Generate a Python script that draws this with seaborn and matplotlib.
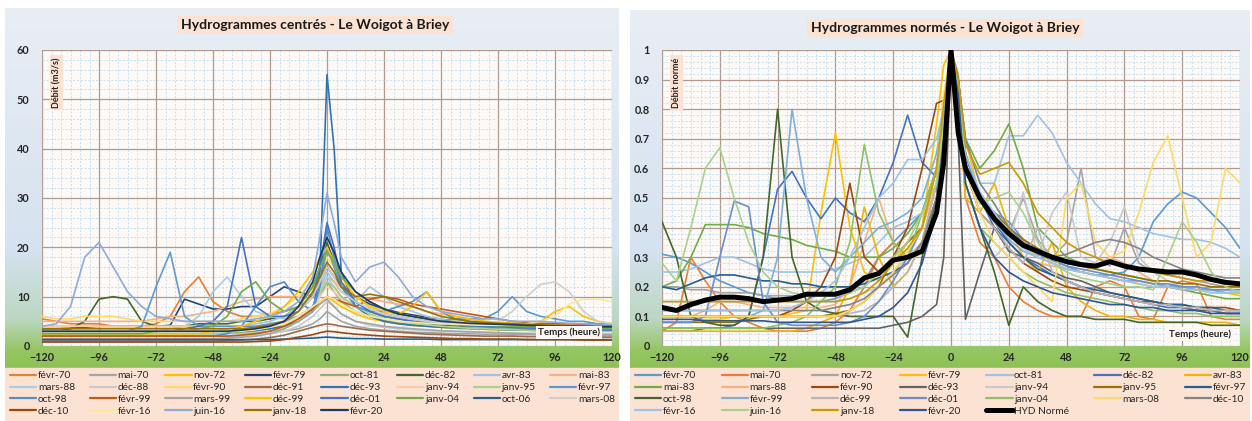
import numpy as np
import pandas as pd
import seaborn as sns
import matplotlib.pyplot as plt
from matplotlib.colors import to_rgb
from matplotlib.lines import Line2D
from matplotlib.patches import Rectangle
from matplotlib.ticker import MultipleLocator

sns.set_theme(style="white")
plt.rcParams['font.family'] = ['Lato', 'DejaVu Sans']

# time axis (hours around the peak), shared by every event
HOURS = [-120, -114, -108, -102, -96, -90, -84, -78, -72, -66, -60, -54, -48, -42, -36, -30, -24, -18, -12, -6,
         -3, 0, 3,
         6, 12, 18, 24, 30, 36, 42, 48, 54, 60, 66, 72, 78, 84, 90, 96, 102, 108, 114, 120]

# ---------- left chart: centred hydrographs (m3/s) ----------
Q_FEVR70 = [5.5, 5, 4.5, 4.5, 4.5, 4, 4, 4, 4.5, 6, 11, 14, 9, 7, 6, 6, 6.5, 7, 8, 10, 11, 13, 12, 10, 8, 7, 6.5, 6, 5.5, 5, 5, 4.5, 4.5, 4, 4, 4, 4, 3.5, 3.5, 3.5, 3.5, 3.5, 3.5]
Q_MAI70 = [2, 2, 2, 2, 2, 2, 2, 2, 2, 2, 2, 2, 2, 2, 2.2, 2.3, 2.5, 3, 3.5, 4.5, 5.5, 7, 6, 5, 4, 3.5, 3.2, 3, 2.8, 2.7, 2.6, 2.5, 2.5, 2.4, 2.4, 2.3, 2.3, 2.3, 2.2, 2.2, 2.2, 2.2, 2.2]
Q_NOV72 = [3, 3, 3, 3, 3, 3, 3, 3, 3, 3, 3, 3, 3, 3, 3.2, 3.5, 4, 5, 6, 7.5, 8.5, 10, 9, 8, 6.5, 5.5, 5, 4.5, 4.2, 4, 3.8, 3.6, 3.5, 3.4, 3.3, 3.2, 3.2, 3.1, 3.1, 3, 3, 3, 3]
Q_FEVR79 = [3.5, 3.5, 3.6, 3.8, 4, 4, 4, 4, 4, 4.2, 9.5, 8.5, 7.5, 7.5, 8, 8, 10, 12, 11, 10, 13, 16, 14, 12, 10, 8.5, 7.5, 6.8, 6.3, 5.8, 5.4, 5, 4.8, 4.6, 4.4, 4.3, 4.2, 4.1, 4, 4, 3.9, 3.9, 3.8]
Q_OCT81 = [2.5, 2.5, 2.5, 2.5, 2.5, 2.5, 2.5, 2.5, 2.5, 2.5, 2.5, 2.5, 2.5, 2.6, 2.7, 3, 3.5, 4.5, 6, 8, 10, 13, 11, 9, 7, 6, 5.2, 4.7, 4.3, 4, 3.8, 3.6, 3.5, 3.4, 3.3, 3.2, 3.2, 3.1, 3.1, 3, 3, 3, 3]
Q_DEC82 = [3, 3, 3.5, 5, 9.5, 10, 9.5, 5, 4, 4, 4, 4.5, 4.5, 4.5, 5, 5, 5.5, 6, 8, 12, 16, 21, 17, 13, 9, 7, 6, 5.5, 5, 4.5, 4.3, 4.1, 4, 3.9, 3.8, 3.7, 3.6, 3.6, 3.5, 3.5, 3.4, 3.4, 3.4]
Q_AVR83 = [4, 4, 4, 4, 4, 4, 4, 4, 4, 4, 4, 4, 4, 4, 4, 4.5, 5, 6, 8, 10, 12, 15, 13, 11, 9, 12, 10, 8, 7, 6, 5.5, 5, 4.8, 4.6, 4.5, 4.4, 4.3, 4.2, 4.1, 4, 4, 4, 4]
Q_MAI83 = [5, 5, 5, 5, 5, 5, 5, 5, 5.5, 6, 6, 6.5, 7, 8, 9, 9.5, 10, 10, 10, 10.5, 12, 14, 13, 11, 10, 9.5, 9, 8.5, 8, 7, 6.5, 6, 5.5, 5, 4.8, 4.6, 4.5, 4.4, 4.3, 4.2, 4.1, 4, 4]
Q_MARS88 = [3, 3, 3, 3, 3, 3, 3, 3, 3, 3.5, 4, 6, 11, 14, 10, 7, 6, 5.5, 6, 8, 11, 14, 12, 10, 8, 7, 6, 5.5, 5, 4.7, 4.5, 4.3, 4.1, 4, 3.9, 3.8, 3.7, 3.6, 3.6, 3.5, 3.5, 3.5, 3.5]
Q_DEC88 = [2, 2, 2, 2, 2, 2, 2, 2, 2, 2, 2, 2, 2, 2, 2, 2.2, 2.5, 3, 4, 6, 7.5, 9, 8, 6.5, 5, 4.2, 3.8, 3.5, 3.3, 3.1, 3, 2.9, 2.8, 2.7, 2.7, 2.6, 2.6, 2.5, 2.5, 2.5, 2.5, 2.5, 2.5]
Q_FEVR90 = [6, 5.5, 5.5, 6, 6, 6, 5.5, 5, 5, 5, 5, 5, 5, 5, 5.5, 6, 6.5, 8, 10, 13, 15, 18, 16, 13, 10, 8, 7, 6.5, 6, 5.5, 5.2, 5, 4.8, 4.6, 4.5, 4.4, 4.3, 4.2, 4.2, 4.1, 4.1, 4, 4]
Q_DEC91 = [1, 1, 1, 1, 1, 1, 1, 1, 1, 1, 1, 1, 1, 1.1, 1.2, 1.4, 1.7, 2.2, 3, 3.8, 4.2, 4.5, 4.3, 4, 3.6, 3.2, 3, 2.8, 2.6, 2.4, 2.3, 2.2, 2.1, 2, 2, 2, 1.9, 1.9, 1.9, 1.8, 1.8, 1.8, 1.8]
Q_DEC93 = [3, 3, 3, 3, 3, 3, 3, 3, 3, 3, 3, 3, 3, 3, 3, 3.2, 3.5, 4, 5, 7, 15, 55, 40, 15, 8, 6, 5, 4.5, 4.2, 4, 3.8, 3.7, 3.6, 3.5, 3.4, 3.3, 3.3, 3.2, 3.2, 3.1, 3.1, 3, 3]
Q_JANV94 = [4, 4, 4, 4, 4, 4, 4, 4, 4, 4, 4, 4, 4, 4, 4, 4, 4.5, 5, 6, 8, 10, 12, 11, 9.5, 8, 7, 6.5, 6, 5.5, 5, 4.8, 4.6, 4.5, 4.4, 4.3, 4.2, 4.1, 4, 4, 4, 4, 4, 4]
Q_JANV95 = [2.5, 2.5, 2.5, 2.5, 2.5, 2.5, 2.5, 2.5, 2.5, 2.5, 2.5, 2.5, 2.5, 2.5, 2.5, 2.7, 3, 3.5, 5, 8, 11, 13, 12, 10, 8, 6.5, 5.5, 5, 4.6, 4.3, 4, 3.8, 3.6, 3.5, 3.4, 3.3, 3.2, 3.1, 3, 3, 3, 3, 3]
Q_FEVR97 = [3, 3, 3, 3, 3, 3, 3, 4, 12, 19, 6, 4, 4, 4, 4, 4, 4.5, 5, 6, 8, 12, 20, 16, 12, 9, 7.5, 6.5, 6, 5.5, 5, 5, 5.5, 5.5, 5.5, 7, 10, 7, 6, 5.5, 5, 5, 4.5, 4.5]
Q_OCT98 = [2, 2, 2, 2, 2, 2, 2, 2, 2, 2, 2, 2, 2, 2.5, 4, 8, 12, 13, 9, 7, 12, 24, 18, 12, 8, 7, 7, 8, 9, 11, 7, 5.5, 5, 4.5, 4.2, 4, 3.8, 3.6, 3.5, 3.4, 3.3, 3.2, 3.2]
Q_FEVR99 = [2, 2, 2, 2, 2, 2, 2, 2, 2, 2, 2, 2, 2, 2, 2.2, 2.5, 3, 4, 5.5, 7.5, 9, 10, 9.5, 9, 8, 9.5, 10, 9.5, 8.5, 8, 7.5, 7, 6.5, 6, 5.5, 5, 4.8, 4.6, 4.5, 4.5, 4.4, 4.4, 4.3]
Q_MARS99 = [1.5, 1.5, 1.5, 1.5, 1.5, 1.5, 1.5, 1.5, 1.5, 1.5, 1.5, 1.5, 1.5, 1.6, 1.8, 2, 2.5, 3.5, 5, 7, 8.5, 9.5, 8, 6.5, 5, 4.5, 4, 3.7, 3.5, 3.3, 3.1, 3, 2.9, 2.8, 2.7, 2.6, 2.5, 2.5, 2.4, 2.4, 2.3, 2.3, 2.3]
Q_DEC99 = [2.5, 2.5, 2.5, 2.5, 2.5, 2.5, 2.5, 2.5, 2.5, 2.5, 2.5, 2.5, 3, 3.5, 4, 5, 6, 8, 11, 15, 18, 20, 17, 14, 10, 8, 7, 6.5, 8, 11, 7, 6, 5.5, 5, 4.8, 4.6, 4.5, 5, 7, 8, 6, 5, 4.5]
Q_DEC01 = [3, 3, 3, 3, 3, 3, 3, 3, 3, 3, 3.5, 4, 5, 8, 22, 8, 6, 6, 7, 10, 16, 25, 20, 13, 9, 7, 6, 5.5, 5, 4.7, 4.5, 4.3, 4.1, 4, 3.9, 3.8, 3.7, 3.6, 3.5, 3.5, 3.4, 3.4, 3.3]
Q_JANV04 = [2.5, 2.5, 2.5, 2.5, 2.5, 2.5, 2.5, 2.5, 3, 3, 3, 3.5, 4, 6, 11, 13, 9, 7, 8, 12, 16, 19, 17, 14, 11, 9, 7.5, 6.5, 6, 5.5, 5, 4.7, 4.5, 4.3, 4.1, 4, 3.9, 3.8, 3.7, 3.6, 3.6, 3.5, 3.5]
Q_OCT06 = [1.3, 1.3, 1.3, 1.3, 1.3, 1.3, 1.3, 1.3, 1.3, 1.3, 1.3, 1.3, 1.3, 1.3, 1.3, 1.3, 1.3, 1.4, 1.5, 1.6, 1.7, 1.8, 1.7, 1.6, 1.5, 1.5, 1.4, 1.4, 1.4, 1.4, 1.3, 1.3, 1.3, 1.3, 1.3, 1.3, 1.3, 1.3, 1.3, 1.3, 1.3, 1.3, 1.3]
Q_MARS08 = [3, 3, 3, 3, 3, 3, 3, 3, 3, 3, 3, 3, 3, 3, 3, 3.5, 4, 5, 7, 10, 13, 16, 14, 11, 9, 7.5, 6.5, 6, 5.5, 5, 4.8, 4.6, 4.5, 4.5, 5, 7, 10, 12.5, 13, 11, 7, 5, 4.5]
Q_DEC10 = [0.8, 0.8, 0.8, 0.8, 0.8, 0.8, 0.8, 0.8, 0.8, 0.8, 0.8, 0.8, 0.8, 0.8, 0.8, 0.9, 1, 1.3, 1.8, 2.3, 2.7, 3, 2.9, 2.7, 2.4, 2.2, 2, 1.9, 1.8, 1.7, 1.6, 1.5, 1.5, 1.4, 1.4, 1.4, 1.3, 1.3, 1.3, 1.3, 1.2, 1.2, 1.2]
Q_FEVR16 = [3, 3, 3, 3, 3, 3, 3, 3, 3, 3, 3, 3, 3, 3, 3, 3.3, 3.8, 4.5, 6, 8, 9, 10, 9.5, 8.5, 7, 6, 5.5, 5, 4.8, 4.6, 4.5, 4.4, 4.3, 4.2, 4.2, 4.3, 4.5, 5, 6, 8.5, 9.5, 9.5, 9]
Q_JUIN16 = [4, 4.5, 8, 18, 21, 16, 11, 8, 6, 5.5, 5, 5, 5, 5, 5, 5.5, 6, 7, 9, 14, 22, 31, 25, 18, 13, 16, 17, 14, 10, 8, 7, 6.5, 6, 5.5, 5.5, 5, 5, 5, 4.8, 4.6, 4.5, 4.4, 4.3]
Q_JANV18 = [3.5, 3.5, 3.5, 3.5, 3.5, 3.5, 3.5, 3.5, 3.5, 3.5, 3.5, 3.5, 3.5, 3.5, 3.5, 3.8, 4.2, 5, 7, 11, 14, 17, 15, 12, 10, 10.5, 10, 9, 8, 7, 6, 5.5, 5, 4.8, 4.6, 4.5, 4.4, 4.3, 4.2, 4.1, 4, 4, 4]
Q_FEVR20 = [3, 3, 3, 3, 3, 3, 3, 3, 3, 3, 3, 3, 3, 3, 3.2, 3.5, 4, 5, 8, 13, 18, 22, 19, 15, 11, 9, 7.5, 6.5, 6, 5.5, 5, 4.8, 4.6, 4.5, 4.4, 4.3, 4.2, 4.1, 4, 4, 4, 3.9, 3.9]

LEFT_EVENTS = ['févr-70', 'mai-70', 'nov-72', 'févr-79', 'oct-81', 'déc-82', 'avr-83', 'mai-83',
               'mars-88', 'déc-88', 'févr-90', 'déc-91', 'déc-93', 'janv-94', 'janv-95', 'févr-97',
               'oct-98', 'févr-99', 'mars-99', 'déc-99', 'déc-01', 'janv-04', 'oct-06', 'mars-08',
               'déc-10', 'févr-16', 'juin-16', 'janv-18', 'févr-20']
LEFT_VALUES = [Q_FEVR70, Q_MAI70, Q_NOV72, Q_FEVR79, Q_OCT81, Q_DEC82, Q_AVR83, Q_MAI83,
               Q_MARS88, Q_DEC88, Q_FEVR90, Q_DEC91, Q_DEC93, Q_JANV94, Q_JANV95, Q_FEVR97,
               Q_OCT98, Q_FEVR99, Q_MARS99, Q_DEC99, Q_DEC01, Q_JANV04, Q_OCT06, Q_MARS08,
               Q_DEC10, Q_FEVR16, Q_JUIN16, Q_JANV18, Q_FEVR20]
LEFT_COLORS = ['#ED7D31', '#A5A5A5', '#FFC000', '#264478', '#8FAF7A', '#43682B', '#9DC3E6', '#F4B183',
               '#A9CCE8', '#C9C9C9', '#FFD966', '#9E6B4A', '#2E75B6', '#F8CBAD', '#A9D18E', '#5B9BD5',
               '#4F8FD0', '#C55A11', '#A5A5A5', '#FFC000', '#4472C4', '#70AD47', '#255E91', '#D0CECE',
               '#9E480E', '#FFE699', '#8FAADC', '#997300', '#203864']

# ---------- right chart: normalised hydrographs ----------
N_FEVR70 = [0.31, 0.3, 0.28, 0.25, 0.22, 0.2, 0.18, 0.17, 0.16, 0.15, 0.15, 0.15, 0.16, 0.18, 0.22, 0.3, 0.35, 0.4, 0.45, 0.6, 0.8, 1, 0.9, 0.65, 0.5, 0.45, 0.42, 0.36, 0.32, 0.29, 0.27, 0.25, 0.24, 0.24, 0.25, 0.3, 0.42, 0.48, 0.52, 0.5, 0.45, 0.4, 0.33]
N_MAI70 = [0.05, 0.08, 0.3, 0.22, 0.15, 0.1, 0.08, 0.06, 0.05, 0.05, 0.05, 0.06, 0.08, 0.12, 0.2, 0.3, 0.35, 0.3, 0.35, 0.55, 0.8, 1, 0.85, 0.5, 0.35, 0.3, 0.2, 0.15, 0.12, 0.1, 0.1, 0.1, 0.2, 0.22, 0.2, 0.1, 0.09, 0.2, 0.22, 0.21, 0.1, 0.09, 0.09]
N_NOV72 = [0.2, 0.2, 0.19, 0.19, 0.18, 0.18, 0.18, 0.17, 0.17, 0.17, 0.17, 0.17, 0.17, 0.18, 0.2, 0.25, 0.3, 0.35, 0.4, 0.6, 0.82, 1, 0.92, 0.6, 0.45, 0.4, 0.38, 0.5, 0.36, 0.3, 0.35, 0.6, 0.3, 0.27, 0.4, 0.28, 0.25, 0.24, 0.23, 0.22, 0.21, 0.2, 0.2]
N_FEVR79 = [0.08, 0.08, 0.08, 0.09, 0.09, 0.1, 0.1, 0.1, 0.1, 0.11, 0.12, 0.45, 0.72, 0.4, 0.25, 0.22, 0.28, 0.35, 0.4, 0.75, 0.95, 1, 0.9, 0.7, 0.5, 0.42, 0.38, 0.35, 0.3, 0.28, 0.26, 0.25, 0.24, 0.23, 0.22, 0.21, 0.2, 0.2, 0.19, 0.19, 0.18, 0.18, 0.17]
N_OCT81 = [0.25, 0.25, 0.26, 0.28, 0.3, 0.3, 0.28, 0.26, 0.25, 0.25, 0.25, 0.25, 0.26, 0.28, 0.3, 0.35, 0.4, 0.42, 0.45, 0.6, 0.8, 1, 0.9, 0.7, 0.55, 0.55, 0.71, 0.71, 0.78, 0.72, 0.62, 0.55, 0.48, 0.43, 0.42, 0.4, 0.38, 0.37, 0.36, 0.36, 0.35, 0.33, 0.3]
N_DEC82 = [0.05, 0.05, 0.05, 0.06, 0.06, 0.07, 0.1, 0.3, 0.53, 0.59, 0.5, 0.43, 0.5, 0.45, 0.42, 0.5, 0.62, 0.78, 0.62, 0.57, 0.75, 1, 0.85, 0.65, 0.5, 0.4, 0.35, 0.3, 0.27, 0.24, 0.22, 0.2, 0.18, 0.17, 0.16, 0.15, 0.14, 0.13, 0.13, 0.12, 0.12, 0.11, 0.11]
N_AVR83 = [0.05, 0.05, 0.05, 0.05, 0.05, 0.05, 0.05, 0.05, 0.05, 0.05, 0.06, 0.08, 0.1, 0.2, 0.47, 0.3, 0.2, 0.25, 0.35, 0.55, 0.8, 1, 0.88, 0.5, 0.45, 0.55, 0.4, 0.3, 0.25, 0.35, 0.2, 0.15, 0.12, 0.1, 0.1, 0.09, 0.09, 0.08, 0.08, 0.08, 0.08, 0.08, 0.07]
N_MAI83 = [0.2, 0.22, 0.3, 0.41, 0.41, 0.41, 0.4, 0.38, 0.37, 0.36, 0.34, 0.33, 0.32, 0.3, 0.3, 0.3, 0.33, 0.38, 0.45, 0.6, 0.8, 1, 0.9, 0.7, 0.6, 0.66, 0.75, 0.6, 0.4, 0.35, 0.3, 0.28, 0.26, 0.25, 0.24, 0.23, 0.22, 0.2, 0.19, 0.18, 0.17, 0.16, 0.16]
N_MARS88 = [0.1, 0.1, 0.1, 0.12, 0.15, 0.15, 0.14, 0.13, 0.13, 0.13, 0.13, 0.13, 0.14, 0.2, 0.35, 0.5, 0.35, 0.3, 0.4, 0.55, 0.8, 1, 0.85, 0.6, 0.5, 0.45, 0.35, 0.3, 0.28, 0.27, 0.26, 0.25, 0.27, 0.3, 0.28, 0.25, 0.22, 0.2, 0.2, 0.19, 0.19, 0.18, 0.18]
N_FEVR90 = [0.1, 0.1, 0.1, 0.1, 0.1, 0.1, 0.1, 0.1, 0.1, 0.12, 0.15, 0.2, 0.3, 0.55, 0.3, 0.25, 0.3, 0.4, 0.6, 0.82, 0.83, 1, 0.85, 0.6, 0.45, 0.4, 0.33, 0.28, 0.25, 0.22, 0.2, 0.19, 0.18, 0.17, 0.16, 0.15, 0.15, 0.14, 0.14, 0.13, 0.13, 0.13, 0.12]
N_DEC93 = [0.06, 0.06, 0.06, 0.06, 0.06, 0.06, 0.06, 0.06, 0.06, 0.06, 0.06, 0.06, 0.06, 0.06, 0.06, 0.06, 0.07, 0.08, 0.1, 0.14, 0.3, 1, 0.7, 0.09, 0.25, 0.4, 0.32, 0.3, 0.28, 0.25, 0.23, 0.22, 0.2, 0.18, 0.17, 0.16, 0.15, 0.14, 0.13, 0.12, 0.12, 0.11, 0.11]
N_JANV94 = [0.15, 0.15, 0.15, 0.15, 0.15, 0.15, 0.15, 0.15, 0.15, 0.15, 0.15, 0.15, 0.15, 0.16, 0.18, 0.2, 0.25, 0.3, 0.35, 0.5, 0.75, 1, 0.85, 0.55, 0.4, 0.3, 0.35, 0.52, 0.3, 0.45, 0.52, 0.3, 0.28, 0.35, 0.47, 0.3, 0.25, 0.22, 0.2, 0.2, 0.19, 0.19, 0.18]
N_JANV95 = [0.08, 0.08, 0.08, 0.08, 0.08, 0.08, 0.09, 0.1, 0.1, 0.1, 0.1, 0.1, 0.11, 0.12, 0.15, 0.2, 0.3, 0.35, 0.4, 0.6, 0.8, 1, 0.9, 0.65, 0.5, 0.45, 0.4, 0.36, 0.33, 0.3, 0.28, 0.27, 0.26, 0.25, 0.24, 0.23, 0.22, 0.22, 0.21, 0.21, 0.2, 0.2, 0.2]
N_FEVR97 = [0.2, 0.19, 0.21, 0.23, 0.24, 0.24, 0.23, 0.22, 0.22, 0.21, 0.21, 0.2, 0.2, 0.2, 0.21, 0.23, 0.25, 0.28, 0.35, 0.5, 0.75, 1, 0.9, 0.65, 0.5, 0.42, 0.35, 0.3, 0.26, 0.24, 0.22, 0.2, 0.19, 0.18, 0.17, 0.16, 0.15, 0.14, 0.14, 0.13, 0.13, 0.12, 0.12]
N_OCT98 = [0.42, 0.3, 0.1, 0.08, 0.07, 0.07, 0.1, 0.3, 0.8, 0.3, 0.15, 0.12, 0.11, 0.1, 0.1, 0.1, 0.1, 0.03, 0.3, 0.5, 0.75, 1, 0.85, 0.55, 0.4, 0.25, 0.07, 0.2, 0.15, 0.12, 0.1, 0.1, 0.09, 0.09, 0.09, 0.08, 0.08, 0.08, 0.08, 0.08, 0.07, 0.07, 0.07]
N_FEVR99 = [0.1, 0.1, 0.1, 0.1, 0.1, 0.1, 0.1, 0.12, 0.3, 0.8, 0.5, 0.3, 0.25, 0.3, 0.35, 0.4, 0.42, 0.45, 0.5, 0.65, 0.82, 1, 0.88, 0.62, 0.5, 0.42, 0.36, 0.32, 0.3, 0.28, 0.26, 0.25, 0.24, 0.23, 0.22, 0.22, 0.21, 0.2, 0.2, 0.19, 0.19, 0.18, 0.18]
N_DEC99 = [0.1, 0.1, 0.1, 0.1, 0.1, 0.1, 0.1, 0.1, 0.1, 0.1, 0.1, 0.1, 0.1, 0.11, 0.12, 0.15, 0.2, 0.25, 0.35, 0.55, 0.8, 1, 0.88, 0.6, 0.45, 0.4, 0.33, 0.28, 0.4, 0.25, 0.22, 0.2, 0.18, 0.17, 0.16, 0.15, 0.14, 0.14, 0.13, 0.13, 0.12, 0.12, 0.12]
N_DEC01 = [0.08, 0.08, 0.08, 0.1, 0.3, 0.49, 0.47, 0.15, 0.08, 0.07, 0.07, 0.07, 0.07, 0.08, 0.1, 0.15, 0.22, 0.3, 0.4, 0.6, 0.8, 1, 0.88, 0.65, 0.5, 0.45, 0.38, 0.34, 0.31, 0.29, 0.27, 0.26, 0.25, 0.24, 0.23, 0.22, 0.21, 0.21, 0.2, 0.2, 0.19, 0.19, 0.19]
N_JANV04 = [0.06, 0.06, 0.06, 0.06, 0.06, 0.06, 0.06, 0.06, 0.07, 0.08, 0.1, 0.15, 0.2, 0.35, 0.68, 0.45, 0.35, 0.3, 0.45, 0.6, 0.8, 1, 0.85, 0.55, 0.4, 0.35, 0.3, 0.25, 0.22, 0.2, 0.18, 0.17, 0.16, 0.15, 0.14, 0.13, 0.12, 0.12, 0.11, 0.11, 0.1, 0.1, 0.1]
N_MARS08 = [0.1, 0.1, 0.1, 0.1, 0.1, 0.1, 0.1, 0.1, 0.1, 0.1, 0.1, 0.1, 0.1, 0.12, 0.15, 0.2, 0.25, 0.32, 0.4, 0.6, 0.85, 1, 0.88, 0.6, 0.45, 0.35, 0.3, 0.25, 0.2, 0.15, 0.5, 0.55, 0.35, 0.3, 0.32, 0.45, 0.62, 0.71, 0.5, 0.3, 0.35, 0.6, 0.55]
N_DEC10 = [0.12, 0.12, 0.12, 0.12, 0.12, 0.12, 0.12, 0.12, 0.12, 0.12, 0.12, 0.12, 0.13, 0.14, 0.16, 0.2, 0.24, 0.28, 0.35, 0.5, 0.75, 1, 0.9, 0.7, 0.55, 0.48, 0.4, 0.35, 0.32, 0.3, 0.31, 0.33, 0.35, 0.36, 0.35, 0.33, 0.3, 0.28, 0.26, 0.25, 0.24, 0.23, 0.23]
N_FEVR16 = [0.12, 0.12, 0.12, 0.12, 0.12, 0.12, 0.12, 0.12, 0.12, 0.13, 0.15, 0.18, 0.22, 0.3, 0.4, 0.5, 0.55, 0.63, 0.63, 0.7, 0.8, 1, 0.88, 0.65, 0.52, 0.45, 0.38, 0.33, 0.3, 0.28, 0.26, 0.25, 0.24, 0.23, 0.22, 0.21, 0.2, 0.2, 0.19, 0.19, 0.18, 0.18, 0.18]
N_JUIN16 = [0.28, 0.22, 0.4, 0.6, 0.67, 0.5, 0.35, 0.25, 0.2, 0.18, 0.17, 0.17, 0.17, 0.18, 0.2, 0.25, 0.3, 0.35, 0.45, 0.55, 0.75, 1, 0.88, 0.6, 0.48, 0.5, 0.52, 0.45, 0.35, 0.28, 0.25, 0.23, 0.22, 0.21, 0.2, 0.2, 0.19, 0.3, 0.42, 0.35, 0.25, 0.2, 0.18]
N_JANV18 = [0.15, 0.15, 0.15, 0.15, 0.15, 0.15, 0.15, 0.15, 0.15, 0.15, 0.15, 0.15, 0.15, 0.16, 0.18, 0.22, 0.28, 0.33, 0.4, 0.6, 0.82, 1, 0.9, 0.68, 0.58, 0.6, 0.62, 0.55, 0.45, 0.4, 0.35, 0.32, 0.3, 0.28, 0.27, 0.26, 0.25, 0.24, 0.23, 0.22, 0.22, 0.21, 0.21]
N_FEVR20 = [0.09, 0.09, 0.09, 0.085, 0.085, 0.085, 0.085, 0.085, 0.08, 0.08, 0.08, 0.08, 0.08, 0.08, 0.09, 0.1, 0.13, 0.18, 0.28, 0.45, 0.7, 1, 0.85, 0.55, 0.4, 0.3, 0.25, 0.22, 0.2, 0.18, 0.17, 0.16, 0.15, 0.14, 0.14, 0.13, 0.13, 0.12, 0.12, 0.12, 0.11, 0.11, 0.11]
HYD_NORME = [0.13, 0.12, 0.14, 0.155, 0.165, 0.165, 0.16, 0.15, 0.155, 0.16, 0.175, 0.175, 0.175, 0.19, 0.23, 0.245, 0.29, 0.3, 0.32, 0.45, 0.62, 1, 0.72, 0.6, 0.5, 0.43, 0.38, 0.34, 0.32, 0.3, 0.285, 0.275, 0.27, 0.285, 0.27, 0.26, 0.255, 0.25, 0.25, 0.24, 0.225, 0.215, 0.21]

RIGHT_EVENTS = ['févr-70', 'mai-70', 'nov-72', 'févr-79', 'oct-81', 'déc-82', 'avr-83',
                'mai-83', 'mars-88', 'févr-90', 'déc-93', 'janv-94', 'janv-95', 'févr-97',
                'oct-98', 'févr-99', 'déc-99', 'déc-01', 'janv-04', 'mars-08', 'déc-10',
                'févr-16', 'juin-16', 'janv-18', 'févr-20']
RIGHT_VALUES = [N_FEVR70, N_MAI70, N_NOV72, N_FEVR79, N_OCT81, N_DEC82, N_AVR83,
                N_MAI83, N_MARS88, N_FEVR90, N_DEC93, N_JANV94, N_JANV95, N_FEVR97,
                N_OCT98, N_FEVR99, N_DEC99, N_DEC01, N_JANV04, N_MARS08, N_DEC10,
                N_FEVR16, N_JUIN16, N_JANV18, N_FEVR20]
RIGHT_COLORS = ['#5B9BD5', '#ED7D31', '#A5A5A5', '#FFC000', '#9DC3E6', '#4472C4', '#F2B400',
                '#70AD47', '#F4B183', '#9E480E', '#636363', '#C9C9C9', '#997300', '#255E91',
                '#43682B', '#7CAFDD', '#B7B7B7', '#698ED0', '#8CC168', '#FFD966', '#848484',
                '#9DC3E6', '#A9D18E', '#CC9A00', '#2F5597']

X_TICKS = [-120, -96, -72, -48, -24, 0, 24, 48, 72, 96, 120]

W, H = 1252, 421
fig = plt.figure(figsize=(W / 100, H / 100), dpi=100, facecolor='white')


def long_table(events, values):
    parts = []
    for name, vals in zip(events, values):
        assert len(vals) == len(HOURS), name
        parts.append(pd.DataFrame({'Temps': HOURS, 'Débit': vals, 'Événement': name}))
    return pd.concat(parts, ignore_index=True)


def panel_background(x0, x1, y0, y1, leg_y):
    # chart area gradient (blue-grey to green) + peach legend band
    bg = fig.add_axes([x0 / W, 1 - y1 / H, (x1 - x0) / W, (y1 - y0) / H], zorder=0)
    stops_y = [y0, 250, 318, 348, leg_y]
    stops_c = [to_rgb(c) for c in ['#e9eef5', '#d5e2ef', '#bcd7c2', '#97c667', '#8cc152']]
    rows = np.arange(y0, y1)
    img = np.zeros((len(rows), 1, 3))
    for k in range(3):
        img[:, 0, k] = np.interp(rows, stops_y, [c[k] for c in stops_c])
    bg.imshow(img, aspect='auto', extent=[x0, x1, y1, y0], interpolation='bilinear')
    bg.add_patch(Rectangle((x0, leg_y), x1 - x0, y1 - leg_y, color='#fce2d2'))
    bg.set_xlim(x0, x1)
    bg.set_ylim(y1, y0)
    bg.axis('off')


def plot_panel(rect, events, values, colors, ymax, ymajor, yminor, yfmt):
    ax = fig.add_axes(rect, zorder=2)
    ax.set_facecolor('#fdf9f7')
    df = long_table(events, values)
    sns.lineplot(data=df, x='Temps', y='Débit', hue='Événement', hue_order=events,
                 palette=dict(zip(events, colors)), estimator=None, linewidth=1.2,
                 legend=False, ax=ax)
    ax.set_xlim(-120, 120)
    ax.set_ylim(0, ymax)
    ax.set_xticks(X_TICKS)
    ax.xaxis.set_minor_locator(MultipleLocator(4))
    ax.yaxis.set_major_locator(MultipleLocator(ymajor))
    ax.yaxis.set_minor_locator(MultipleLocator(yminor))
    ax.grid(which='minor', color='#b4d6ec', linewidth=0.5, linestyle=(0, (3, 2.5)))
    ax.grid(which='major', color='#ae9a90', linewidth=0.9)
    ax.set_axisbelow(True)
    ax.yaxis.set_major_formatter(yfmt)
    ax.tick_params(which='both', length=0, labelsize=7.8, colors='#262626', pad=9)
    ax.tick_params(axis='x', pad=4)
    for lab in ax.get_xticklabels() + ax.get_yticklabels():
        lab.set_fontweight('bold')
    for sp in ax.spines.values():
        sp.set_visible(False)
    ax.set_xlabel('')
    ax.set_ylabel('')
    return ax


def add_legend(events, colors, ncol, x0, x1, y0, y1, extra=None):
    handles = [Line2D([], [], color=c, lw=1.6) for c in colors]
    labels = list(events)
    if extra is not None:
        handles.append(extra[0])
        labels.append(extra[1])
    n = len(handles)
    nrows = int(np.ceil(n / ncol))
    order = [r * ncol + c for c in range(ncol) for r in range(nrows) if r * ncol + c < n]
    fig.legend([handles[i] for i in order], [labels[i] for i in order],
               loc='upper left', ncol=ncol, mode='expand',
               bbox_to_anchor=(x0 / W, 1 - y1 / H, (x1 - x0) / W, (y1 - y0) / H),
               frameon=False, fontsize=7.3, handlelength=2.6, handletextpad=0.15,
               columnspacing=0.6, labelspacing=0.28, borderaxespad=0.0, borderpad=0.2)


# left panel
panel_background(5, 619, 8, 421, 368)
axl = plot_panel([42 / W, 1 - 346 / H, 570 / W, 296 / H], LEFT_EVENTS, LEFT_VALUES, LEFT_COLORS,
                 60, 10, 2, lambda v, p: f'{v:.0f}')
fig.text(315 / W, 1 - 25 / H, 'Hydrogrammes centrés - Le Woigot à Briey', ha='center', va='center',
         fontsize=10, fontweight='bold', color='#1a1a1a',
         bbox=dict(facecolor='#fce2d2', edgecolor='none', pad=2.5))
axl.text(0.018, 0.975, 'Débit (m3/s)', transform=axl.transAxes, rotation=90, ha='left', va='top',
         fontsize=6.5, fontweight='bold', bbox=dict(facecolor='#fce2d2', edgecolor='none', pad=1.5))
axl.text(0.925, 0.045, 'Temps (heure)', transform=axl.transAxes, ha='center', va='center',
         fontsize=7, fontweight='bold', bbox=dict(facecolor='#fdf6f2', edgecolor='none', pad=1.5))
add_legend(LEFT_EVENTS, LEFT_COLORS, 8, 8, 617, 369, 421)

# right panel
panel_background(630, 1250, 10, 421, 368)
axr = plot_panel([662 / W, 1 - 346 / H, 578 / W, 296 / H], RIGHT_EVENTS, RIGHT_VALUES, RIGHT_COLORS,
                 1, 0.1, 0.02, lambda v, p: f'{v:.1f}'.rstrip('0').rstrip('.') if v > 0 else '0')
hyd = pd.DataFrame({'Temps': HOURS, 'Débit': HYD_NORME})
sns.lineplot(data=hyd, x='Temps', y='Débit', color='black', linewidth=3.6, ax=axr, zorder=5)
axr.set_xlabel('')
axr.set_ylabel('')
fig.text(945 / W, 1 - 28 / H, 'Hydrogrammes normés - Le Woigot à Briey', ha='center', va='center',
         fontsize=10, fontweight='bold', color='#1a1a1a',
         bbox=dict(facecolor='#fce2d2', edgecolor='none', pad=2.5))
axr.text(0.017, 0.975, 'Débit normé', transform=axr.transAxes, rotation=90, ha='left', va='top',
         fontsize=6.5, fontweight='bold', bbox=dict(facecolor='#fce2d2', edgecolor='none', pad=1.5))
axr.text(0.93, 0.04, 'Temps (heure)', transform=axr.transAxes, ha='center', va='center',
         fontsize=7, fontweight='bold', bbox=dict(facecolor='#fdf6f2', edgecolor='none', pad=1.5))
add_legend(RIGHT_EVENTS, RIGHT_COLORS, 7, 633, 1248, 369, 421,
           extra=(Line2D([], [], color='black', lw=3.6), 'HYD Normé'))

fig.savefig('out.png', dpi=100, facecolor='white')
